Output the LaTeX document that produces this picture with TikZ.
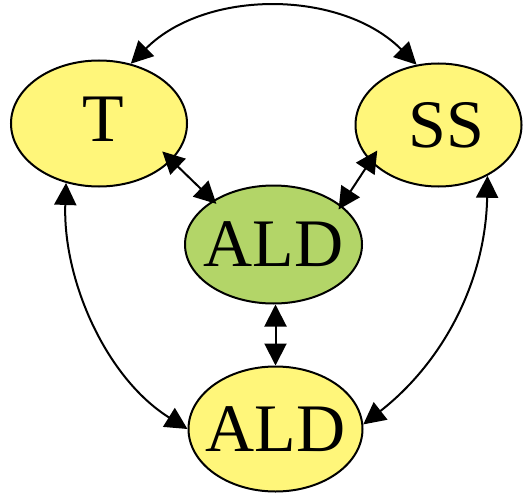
\documentclass[tikz,border=0pt]{standalone}
\usepackage{fontspec}
\setmainfont{Liberation Serif}
\usetikzlibrary{arrows.meta}
\usetikzlibrary{shapes.geometric}
\definecolor{nodeyellow}{RGB}{255,246,122}
\definecolor{nodegreen}{RGB}{179,213,104}

\begin{document}
\begin{tikzpicture}[x=1pt,y=-1pt,line width=2pt,>={Triangle[length=22pt,width=22pt]},
		blob/.style={draw,ellipse,inner sep=-20pt,font=\fontsize{68}{68}\selectfont},
		link/.style={<->,line width=2pt}]
		\useasboundingbox (0,0) rectangle (524,492);
		\node[blob,fill=nodeyellow,minimum width=176pt,minimum height=126pt,text depth=8pt] (T) at (99,123.5) {\hspace*{8pt}T};
		\node[blob,fill=nodeyellow,minimum width=166pt,minimum height=123pt] (SS) at (438.5,125) {\hspace*{16pt}SS};
		\node[blob,fill=nodegreen,minimum width=177pt,minimum height=118pt] (ald1) at (273.5,244.5) {ALD};
		\node[blob,fill=nodeyellow,minimum width=174pt,minimum height=125pt] (ald2) at (275.5,429) {ALD};
		\draw[link] (T.62) to [out=45,in=135,looseness=0.95] (SS.110);
		\draw[link,shorten <=-13pt,shorten >=-5pt] (T.-27) -- (ald1.144);
		\draw[link,shorten <=-13pt,shorten >=-5pt] (SS.208) -- (ald1.30);
		\draw[link] (ald2.north |- ald1.south) -- (ald2.north);
		\draw[link] (T.241) to [out=-92,in=148,looseness=0.9] (ald2.180);
		\draw[link] (SS.-46) to [out=-91,in=38,looseness=0.95] (ald2.3); % right loop
\end{tikzpicture}
\end{document}
